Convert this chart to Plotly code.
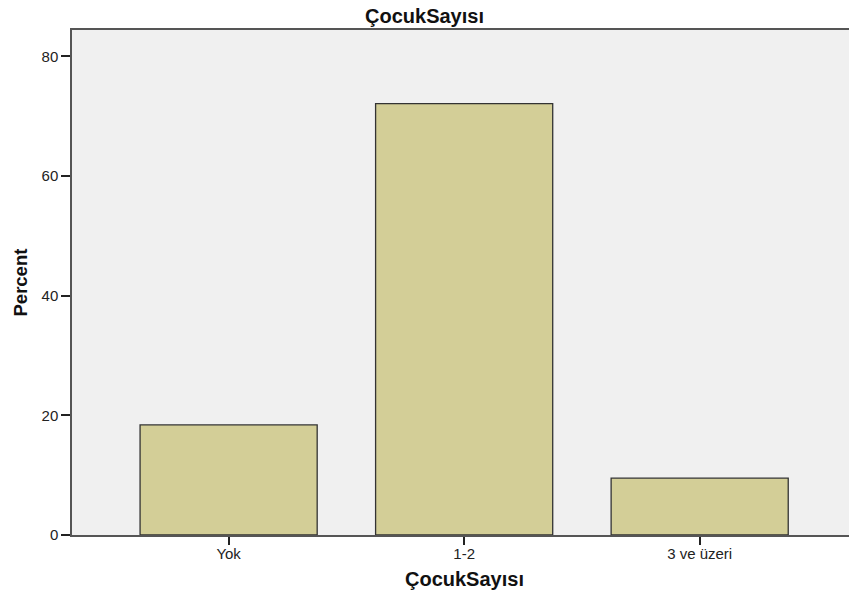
import plotly.graph_objects as go

categories = ["Yok", "1-2", "3 ve üzeri"]
percent = [18.4, 72.1, 9.5]
y_ticks = [0, 20, 40, 60, 80]
title_text = "ÇocukSayısı"
x_title = "ÇocukSayısı"
y_title = "Percent"

W, H = 849, 596
L, T, B, R = 72, 30, 61, 0
plot_w = W - L - R
plot_h = H - T - B

fig = go.Figure(go.Bar(
    x=categories, y=percent,
    marker=dict(color="#D3CE97", line=dict(color="#333333", width=1.3)),
    hoverinfo="x+y",
))

fig.update_layout(
    width=W, height=H,
    margin=dict(l=L, r=R, t=T, b=B, autoexpand=False),
    paper_bgcolor="white",
    plot_bgcolor="#F0F0F0",
    bargap=0.248,
    showlegend=False,
    font=dict(family="Liberation Sans, Arial, sans-serif", size=15, color="#222222"),
    title=dict(text="<b>" + title_text + "</b>", x=0.5, xref="container", xanchor="center",
               y=1 - 16 / H, yanchor="middle", yref="container",
               font=dict(size=20, color="#111111")),
)
fig.update_xaxes(
    type="category", range=[-0.665, 2.634],
    showline=True, linecolor="#555555", linewidth=1.5, mirror=True,
    ticks="outside", ticklen=8, tickcolor="#222222", tickwidth=1.5,
    ticklabelstandoff=-4,
    showgrid=False, zeroline=False,
    tickfont=dict(size=15, color="#222222"),
)
fig.update_yaxes(
    range=[0, 84.4], tickvals=y_ticks,
    showline=True, linecolor="#555555", linewidth=1.5,
    ticks="outside", ticklen=9, tickcolor="#222222", tickwidth=1.5,
    showgrid=False, zeroline=False,
    tickfont=dict(size=15, color="#222222"),
)
fig.add_annotation(text="<b>" + y_title + "</b>", xref="paper", yref="paper",
                   x=(20 - L) / plot_w, y=0.5, textangle=-90, showarrow=False,
                   xanchor="center", yanchor="middle",
                   font=dict(size=18.5, color="#111111"))
fig.add_annotation(text="<b>" + x_title + "</b>", xref="paper", yref="paper",
                   x=(464.5 - L) / plot_w, y=-(579 - (T + plot_h)) / plot_h, showarrow=False,
                   xanchor="center", yanchor="middle",
                   font=dict(size=20, color="#111111"))

fig.write_html("out.html", config={"displayModeBar": False},
               post_script="document.body.style.margin='0px';")
